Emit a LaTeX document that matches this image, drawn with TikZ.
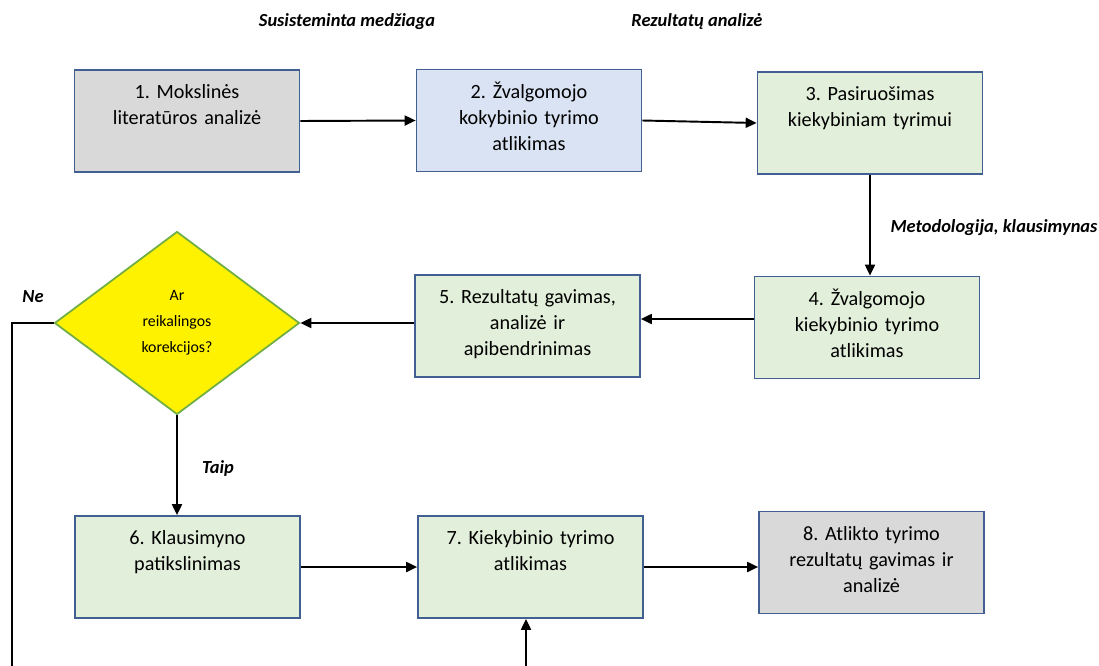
\documentclass[tikz,border=0pt]{standalone}
\usepackage{fontspec}
\setmainfont{Carlito}
\frenchspacing
\usetikzlibrary{shapes.geometric,arrows.meta}

\definecolor{boxline}{RGB}{65,95,145}
\definecolor{boxgray}{RGB}{217,217,217}
\definecolor{boxblue}{RGB}{218,227,243}
\definecolor{boxgreen}{RGB}{226,239,218}
\definecolor{diamline}{RGB}{112,173,71}

\tikzset{
    stage/.style={draw=boxline, line width=1pt, inner sep=0pt,
        text width=4.5cm, align=center, text height=0.57cm, text depth=1.47cm,
        font=\fontsize{11.5}{14.8}\selectfont},
    question/.style={diamond, draw=diamline, line width=1pt, fill=yellow,
        minimum width=4.9cm, minimum height=3.66cm, inner sep=0pt, align=center,
        font=\fontsize{9}{14.8}\selectfont},
    note/.style={font=\fontsize{10.5}{12}\selectfont\bfseries\itshape},
    arrow/.style={line width=1.1pt, -{Triangle[length=0.22cm, width=0.2cm]}}
}

\begin{document}
\begin{tikzpicture}[x=0.02cm, y=-0.02cm]
    \useasboundingbox (0,0) rectangle (1099,666);

    % Top row
    \node[stage, fill=boxgray]  (s1) at (187,121)   {1. Mokslinės\\literatūros analizė};
    \node[stage, fill=boxblue]  (s2) at (529,120.5) {2. Žvalgomojo\\kokybinio tyrimo\\atlikimas};
    \node[stage, fill=boxgreen] (s3) at (870,123)   {3. Pasiruošimas\\kiekybiniam tyrimui};

    % Middle row
    \node[stage, fill=boxgreen] (s4) at (867,327.5) {4. Žvalgomojo\\kiekybinio tyrimo\\atlikimas};
    \node[stage, fill=boxgreen] (s5) at (527.5,326) {5. Rezultatų gavimas,\\analizė ir\\apibendrinimas};
    \node[question] (q) at (177,323) {Ar\\reikalingos\\korekcijos?};

    % Bottom row
    \node[stage, fill=boxgreen] (s6) at (187.5,567) {6. Klausimyno\\patikslinimas};
    \node[stage, fill=boxgreen] (s7) at (530.5,567) {7. Kiekybinio tyrimo\\atlikimas};
    \node[stage, fill=boxgray]  (s8) at (871.5,562.5) {8. Atlikto tyrimo\\rezultatų gavimas ir\\analizė};

    % Labels
    \node[note] (l1) at (347,22)  {Susisteminta medžiaga};
    \node[note] (l2) at (697,22)  {Rezultatų analizė};
    \node[note] (l3) at (994,228) {Metodologija, klausimynas};
    \node[note] (l4) at (33,297)  {Ne};
    \node[note] (l5) at (218,468) {Taip};

    % Connectors
    \draw[arrow] (s1.east) -- (s2.west);
    \draw[arrow] (s2.east) -- (s3.west);
    \draw[arrow] (s3.south) -- (s3.south |- s4.north);
    \draw[arrow] ([yshift=0.17cm]s4.west) -- ([yshift=0.17cm]s4.west -| s5.east);
    \draw[arrow] (s5.west |- q.east) -- (q.east);
    \draw[arrow] (q.south) -- (q.south |- s6.north);
    \draw[arrow] (s6.east |- s7.west) -- (s7.west);
    \draw[arrow] (s7.east) -- (s7.east -| s8.west);

    % Loop back (cut at the lower edge)
    \coordinate (loop) at (12,666);
    \coordinate (back) at (526,666);
    \draw[line width=1.1pt] (q.west) -| (loop);
    \draw[arrow] (back) -- (back |- s7.south);
\end{tikzpicture}
\end{document}
